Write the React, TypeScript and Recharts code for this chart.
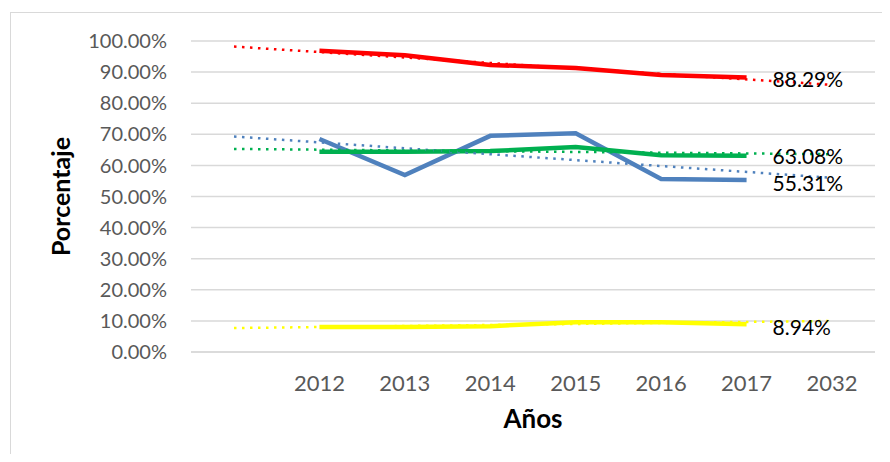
import { LineChart, Line, XAxis, YAxis, CartesianGrid, LabelList, Label } from 'recharts';

const years = ['', '2012', '2013', '2014', '2015', '2016', '2017', '2032'];

// Series reales (porcentaje)
const rojo = [null, 96.9, 95.4, 92.3, 91.3, 89.1, 88.29, null];
const azul = [null, 68.5, 56.9, 69.5, 70.3, 55.6, 55.31, null];
const verde = [null, 64.4, 64.4, 64.6, 65.9, 63.3, 63.08, null];
const amarillo = [null, 8.0, 8.0, 8.3, 9.6, 9.6, 8.94, null];

// Líneas de tendencia (solo extremos)
const rojoTend = [98.2, null, null, null, null, null, null, 85.9];
const azulTend = [69.3, null, null, null, null, null, null, 56.0];
const verdeTend = [65.3, null, null, null, null, null, null, 63.6];
const amarilloTend = [7.7, null, null, null, null, null, null, 10.0];

const yTicks = [0, 10, 20, 30, 40, 50, 60, 70, 80, 90, 100];

const data = years.map((year, i) => ({
  year,
  rojo: rojo[i],
  azul: azul[i],
  verde: verde[i],
  amarillo: amarillo[i],
  rojoTend: rojoTend[i],
  azulTend: azulTend[i],
  verdeTend: verdeTend[i],
  amarilloTend: amarilloTend[i],
}));

const FONT = 'Lato, "Open Sans", sans-serif';

// etiqueta solo en el último año con datos (2017)
const lastLabel = (dy: number) => (props: any) => {
  const { x, y, value, index } = props;
  if (index !== 6 || value == null) return null;
  return (
    <text x={x + 26} y={y + dy} dominantBaseline="central" fontSize={21} fill="#000" fontFamily={FONT}>
      {`${Number(value).toFixed(2)}%`}
    </text>
  );
};

const solid = (key: string, color: string, dy: number) => (
  <Line
    key={key}
    dataKey={key}
    stroke={color}
    strokeWidth={4.5}
    dot={false}
    activeDot={false}
    isAnimationActive={false}
  >
    <LabelList dataKey={key} content={lastLabel(dy)} />
  </Line>
);

const trend = (key: string, color: string) => (
  <Line
    key={key}
    dataKey={key}
    stroke={color}
    strokeWidth={2.5}
    strokeDasharray="2.5 5.5"
    connectNulls
    dot={false}
    activeDot={false}
    isAnimationActive={false}
  />
);

export default function App() {
  return (
    <div style={{ position: 'relative', margin: -8, width: 890, height: 462, overflow: 'hidden', background: '#fff' }}>
      <div
        style={{
          position: 'absolute',
          left: 10,
          top: 12,
          width: 900,
          height: 480,
          border: '1.5px solid #d9d9d9',
        }}
      />
      <div style={{ position: 'absolute', left: 0, top: 0 }}>
        <LineChart width={890} height={462} data={data} margin={{ top: 41, right: 15, bottom: 0, left: 0 }}>
          <CartesianGrid vertical={false} stroke="#d9d9d9" strokeWidth={1.5} />
          <XAxis
            dataKey="year"
            padding={{ left: 43, right: 43 }}
            axisLine={{ stroke: '#d9d9d9', strokeWidth: 1.5 }}
            tickLine={false}
            tick={{ fontSize: 22, fill: '#595959', fontFamily: FONT }}
            tickMargin={17}
            height={110}
          >
            <Label
              value="Años"
              position="insideTop"
              offset={58}
              style={{ fontSize: 26, fontWeight: 700, fill: '#000', fontFamily: FONT }}
            />
          </XAxis>
          <YAxis
            domain={[0, 100]}
            ticks={yTicks}
            width={191}
            axisLine={false}
            tickLine={false}
            tickSize={0}
            tickMargin={24}
            tick={{ fontSize: 20, fill: '#595959', fontFamily: FONT }}
            tickFormatter={(v: number) => `${v.toFixed(2)}%`}
          >
            <Label
              value="Porcentaje"
              angle={-90}
              position="insideLeft"
              offset={61}
              style={{ fontSize: 25, fontWeight: 700, fill: '#000', fontFamily: FONT, textAnchor: 'middle' }}
            />
          </YAxis>
          {solid('azul', '#4f81bd', 3)}
          {solid('verde', '#00b050', 0)}
          {solid('rojo', '#ff0000', 1)}
          {solid('amarillo', '#ffff00', 2)}
          {trend('azulTend', '#4f81bd')}
          {trend('verdeTend', '#00b050')}
          {trend('rojoTend', '#ff0000')}
          {trend('amarilloTend', '#ffff00')}
        </LineChart>
      </div>
    </div>
  );
}
